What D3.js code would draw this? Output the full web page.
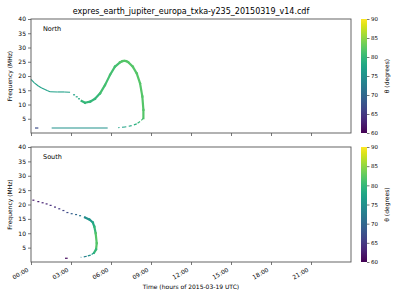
<!DOCTYPE html>
<html>
<head>
<meta charset="utf-8">
<script src="https://cdn.jsdelivr.net/npm/d3@7"></script>
<style>
  body { margin: 0; background: #fff; }
  text { font-family: "DejaVu Sans", sans-serif; fill: #000; }
</style>
</head>
<body>
<div id="my_dataviz"></div>
<script>

const titleText = "expres_earth_jupiter_europa_txka-y235_20150319_v14.cdf";
const hourTicks = [0, 3, 6, 9, 12, 15, 18, 21];
const hourLabels = ["00:00", "03:00", "06:00", "09:00", "12:00", "15:00", "18:00", "21:00"];
const freqTicks = [5, 10, 15, 20, 25, 30, 35, 40];
const thetaTicks = [60, 65, 70, 75, 80, 85, 90];

// North hemisphere (hours, MHz, degrees)
const northA_t = [0, 0.25, 0.55, 0.8, 1.05, 1.25, 1.43, 2.0, 2.5, 2.93];
const northA_f = [18.8, 17.6, 16.5, 15.8, 15.3, 14.8, 14.5, 14.4, 14.4, 14.3];
const northA_th = [77, 77, 77, 77, 77, 77, 77, 77, 77, 77];

const northDip_t = [3.23, 3.43, 3.6];
const northDip_f = [13.4, 12.7, 12.0];
const northDip_th = [77, 78, 78];

const northB_t = [3.8, 4.05, 4.43, 4.8, 5.18, 5.55, 5.93, 6.3, 6.68, 6.85, 7.0, 7.15, 7.3, 7.63, 7.93, 8.18, 8.35, 8.43, 8.43];
const northB_f = [11.2, 10.6, 11.0, 12.0, 13.9, 16.8, 20.4, 23.3, 24.8, 25.2, 25.3, 25.2, 24.8, 23.3, 20.9, 17.4, 12.8, 8.1, 5.2];
const northB_th = [80, 80, 80, 80, 81, 81, 81, 81, 82, 82, 82, 82, 82, 82, 82, 82, 82, 82, 82];

const northTail_t = [8.43, 8.18, 7.93, 7.55, 7.05, 6.55];
const northTail_f = [5.2, 4.0, 3.2, 2.6, 2.1, 1.9];
const northTail_th = [81, 80, 79, 78, 77, 75];

const northFlat_t = [[0.3, 0.55], [1.55, 5.75]];
const northFlat_f = [1.75, 1.75];
const northFlat_th = [67, 75];

// South hemisphere
const southDot_t = [0.18, 0.55, 0.87, 1.17, 1.47, 1.8, 2.12, 2.43, 2.73, 3.05, 3.38, 3.68, 4.05];
const southDot_f = [21.5, 21.0, 20.6, 20.2, 19.7, 19.1, 18.5, 17.9, 17.2, 16.8, 16.5, 16.1, 15.5];
const southDot_th = [62, 62, 63, 63, 64, 64, 65, 66, 67, 69, 70, 72, 74];

const southB_t = [4.05, 4.37, 4.63, 4.75, 4.85, 4.93, 4.88, 4.73];
const southB_f = [15.5, 14.8, 13.8, 12.3, 10.0, 6.5, 4.4, 3.2];
const southB_th = [75, 76, 78, 80, 82, 82, 80, 78];

const southTail_t = [4.73, 4.48, 4.18, 3.73];
const southTail_f = [3.2, 2.4, 2.0, 1.6];
const southTail_th = [77, 75, 73, 70];

const southFlat_t = [[2.55, 2.75]];
const southFlat_f = [1.3];
const southFlat_th = [61];


let width = 400, height = 300;

let svg = d3.select("#my_dataviz")
            .append("svg")
            .attr("width", width)
            .attr("height", height);

let x = d3.scaleLinear().domain([0, 24]).range([31, 351]);
let theta = d3.scaleSequential(d3.interpolateViridis).domain([60, 90]);

let zip = (t, f, th) => t.map((d, i) => ({t: d, f: f[i], th: th[i]}));

let panels = [
    {name: "North", top: 19, bottom: 133, showX: false,
     lines: [zip(northA_t, northA_f, northA_th)], lineW: [1.1],
     thick: [zip(northB_t, northB_f, northB_th)],
     dots: zip(northDip_t, northDip_f, northDip_th),
     dashes: [zip(northTail_t, northTail_f, northTail_th)],
     flats: northFlat_t.map((d, i) => ({t: d, f: northFlat_f[i], th: northFlat_th[i]}))},
    {name: "South", top: 147, bottom: 262, showX: true,
     lines: [], lineW: [],
     thick: [zip(southB_t, southB_f, southB_th)],
     dots: zip(southDot_t, southDot_f, southDot_th),
     dashes: [zip(southTail_t, southTail_f, southTail_th)],
     flats: southFlat_t.map((d, i) => ({t: d, f: southFlat_f[i], th: southFlat_th[i]}))}
];

// gradient for the colour bars
let defs = svg.append("defs");
let grad = defs.append("linearGradient")
    .attr("id", "viridis")
    .attr("x1", 0).attr("y1", 1).attr("x2", 0).attr("y2", 0);
d3.range(0, 1.0001, 0.05).forEach(s => {
    grad.append("stop").attr("offset", s).attr("stop-color", d3.interpolateViridis(s));
});

panels.forEach(p => {

    let y = d3.scaleLinear().domain([0, 40]).range([p.bottom, p.top]);
    let g = svg.append("g");

    // segments drawn point to point, coloured by the first point
    let segs = (pts) => d3.pairs(pts);

    p.lines.forEach((pts, k) => {
        g.selectAll(null).data(segs(pts)).enter().append("line")
            .attr("x1", d => x(d[0].t)).attr("y1", d => y(d[0].f))
            .attr("x2", d => x(d[1].t)).attr("y2", d => y(d[1].f))
            .attr("stroke", d => theta(d[0].th))
            .attr("stroke-width", p.lineW[k]);
    });

    p.thick.forEach(pts => {
        g.selectAll(null).data(segs(pts)).enter().append("line")
            .attr("x1", d => x(d[0].t)).attr("y1", d => y(d[0].f))
            .attr("x2", d => x(d[1].t)).attr("y2", d => y(d[1].f))
            .attr("stroke", d => theta(d[0].th))
            .attr("stroke-width", 2.2)
            .attr("stroke-linecap", "square");
    });

    p.dashes.forEach(pts => {
        g.selectAll(null).data(segs(pts)).enter().append("line")
            .attr("x1", d => x(d[0].t)).attr("y1", d => y(d[0].f))
            .attr("x2", d => x(d[1].t)).attr("y2", d => y(d[1].f))
            .attr("stroke", d => theta(d[0].th))
            .attr("stroke-width", 1.2)
            .attr("stroke-dasharray", "3,2.5");
    });

    g.selectAll(null).data(p.dots).enter().append("rect")
        .attr("x", d => x(d.t) - 1)
        .attr("y", d => y(d.f) - 0.6)
        .attr("width", 2)
        .attr("height", 1.2)
        .attr("fill", d => theta(d.th));

    g.selectAll(null).data(p.flats).enter().append("line")
        .attr("x1", d => x(d.t[0])).attr("x2", d => x(d.t[1]))
        .attr("y1", d => y(d.f)).attr("y2", d => y(d.f))
        .attr("stroke", d => theta(d.th))
        .attr("stroke-width", 1.2);

    // frame
    g.append("rect")
        .attr("x", 31).attr("y", p.top)
        .attr("width", 320).attr("height", p.bottom - p.top)
        .attr("fill", "none").attr("stroke", "#555").attr("stroke-width", 0.9);

    // y axis
    let ya = g.append("g").attr("transform", "translate(31,0)")
        .call(d3.axisLeft(y).tickValues(freqTicks).tickSize(3).tickPadding(2));
    ya.select(".domain").remove();
    ya.selectAll("line").attr("stroke", "#555").attr("stroke-width", 0.8);
    ya.selectAll("text").style("font-size", "6px").style("font-family", "DejaVu Sans");

    // x axis
    let xa = g.append("g").attr("transform", "translate(0," + p.bottom + ")")
        .call(d3.axisBottom(x).tickValues(hourTicks).tickSize(3).tickFormat(""));
    xa.select(".domain").remove();
    xa.selectAll("line").attr("stroke", "#555").attr("stroke-width", 0.8);

    if (p.showX) {
        g.selectAll(null).data(hourTicks).enter().append("text")
            .attr("transform", (d) => "translate(" + (x(d) - 2) + "," + (p.bottom + 9) + ") rotate(-30)")
            .attr("text-anchor", "end")
            .style("font-size", "6px")
            .text((d, i) => hourLabels[i]);
    }

    g.append("text")
        .attr("x", 43).attr("y", p.top + 12)
        .style("font-size", "6.5px")
        .text(p.name);

    g.append("text")
        .attr("transform", "translate(12," + ((p.top + p.bottom) / 2) + ") rotate(-90)")
        .attr("text-anchor", "middle")
        .style("font-size", "6px")
        .text("Frequency (MHz)");

    // colour bar
    let cy = d3.scaleLinear().domain([60, 90]).range([p.bottom, p.top]);
    g.append("rect")
        .attr("x", 361).attr("y", p.top)
        .attr("width", 6).attr("height", p.bottom - p.top)
        .attr("fill", "url(#viridis)");
    let ca = g.append("g").attr("transform", "translate(367,0)")
        .call(d3.axisRight(cy).tickValues(thetaTicks).tickSize(2.5).tickPadding(1.5));
    ca.select(".domain").remove();
    ca.selectAll("line").attr("stroke", "#555").attr("stroke-width", 0.8);
    ca.selectAll("text").style("font-size", "5.5px").style("font-family", "DejaVu Sans");

    g.append("text")
        .attr("transform", "translate(389," + ((p.top + p.bottom) / 2) + ") rotate(-90)")
        .attr("text-anchor", "middle")
        .style("font-size", "6px")
        .text("\u03b8 (degrees)");
});

svg.append("text")
    .attr("x", 191).attr("y", 14)
    .attr("text-anchor", "middle")
    .style("font-size", "8px")
    .text(titleText);

svg.append("text")
    .attr("x", 191).attr("y", 289)
    .attr("text-anchor", "middle")
    .style("font-size", "6px")
    .text("Time (hours of 2015-03-19 UTC)");

</script>
</body>
</html>
